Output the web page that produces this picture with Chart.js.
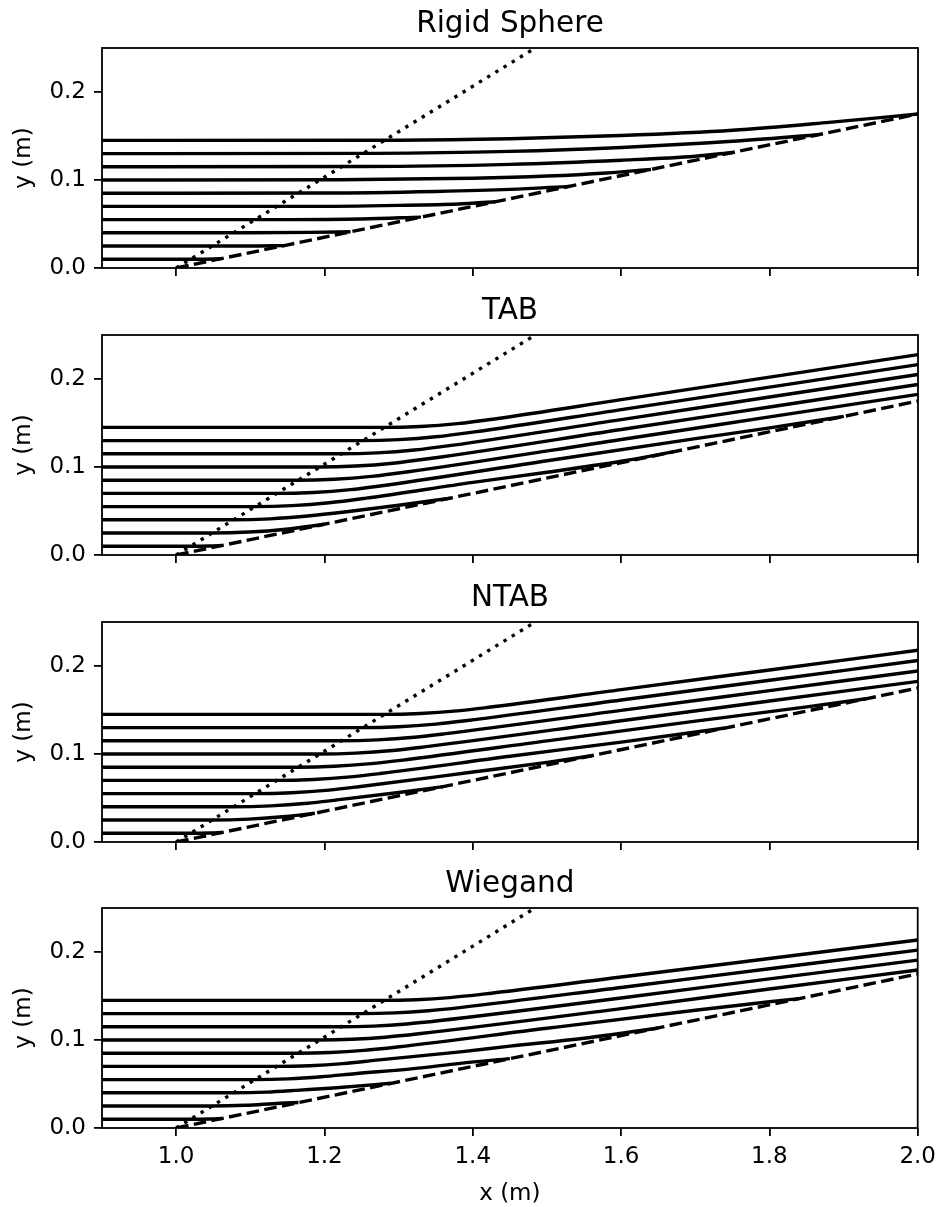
<!DOCTYPE html>
<html>
<head>
<meta charset="utf-8">
<script src="https://cdn.jsdelivr.net/npm/chart.js@4.4.1/dist/chart.umd.min.js"></script>
<style>
  html, body { margin: 0; padding: 0; background: #fff; }
  body { width: 943px; height: 1207px; position: relative; overflow: hidden; }
  canvas { position: absolute; left: 0; }
</style>
</head>
<body>
<canvas id="panel0" width="943" height="298" style="top:0px"></canvas>
<canvas id="panel1" width="943" height="298" style="top:287px"></canvas>
<canvas id="panel2" width="943" height="298" style="top:574px"></canvas>
<canvas id="panel3" width="943" height="347" style="top:860px"></canvas>
<script>
// Panel titles and axis ticks
const panelTitles = ['Rigid Sphere', 'TAB', 'NTAB', 'Wiegand'];
const xTicks = [1.0, 1.2, 1.4, 1.6, 1.8, 2.0];
const yTicks = [0.0, 0.1, 0.2];

// Reference lines shared by all panels (x, y in metres)
const dashedLine = [[1.0, 0.0], [2.0, 0.175]];
const dottedLine = [[1.0, 0.0], [1.484, 0.25]];

// Trajectories, one list of [x, y] points per starting height
const rigidSphereTracks = [
  [[0.9, 0.01], [1.03, 0.01], [1.06, 0.0105]],
  [[0.9, 0.025], [1.1, 0.025], [1.145, 0.0254]],
  [[0.9, 0.04], [1.1, 0.04], [1.18, 0.0405], [1.235, 0.0412]],
  [[0.9, 0.055], [1.15, 0.055], [1.25, 0.0557], [1.33, 0.0578]],
  [[0.9, 0.07], [1.17, 0.07], [1.3, 0.0712], [1.38, 0.0728], [1.43, 0.0753]],
  [[0.9, 0.085], [1.2, 0.0852], [1.35, 0.087], [1.45, 0.0893], [1.53, 0.0928]],
  [[0.9, 0.1], [1.22, 0.1003], [1.4, 0.102], [1.5, 0.1045], [1.58, 0.108], [1.64, 0.112]],
  [[0.9, 0.115], [1.25, 0.1153], [1.45, 0.1178], [1.6, 0.1225], [1.7, 0.127], [1.75, 0.1313]],
  [[0.9, 0.13], [1.27, 0.1303], [1.45, 0.1325], [1.6, 0.137], [1.75, 0.144], [1.865, 0.1514]],
  [[0.9, 0.145], [1.3, 0.1452], [1.45, 0.1468], [1.6, 0.1505], [1.75, 0.1565], [1.88, 0.1655], [2.0, 0.175]]
];

const tabTracks = [
  [[0.9, 0.01], [1.019, 0.01], [1.045, 0.0103], [1.062, 0.0108]],
  [[0.9, 0.025], [1.048, 0.025], [1.098, 0.0261], [1.148, 0.0293], [1.2, 0.0349]],
  [[0.9, 0.04], [1.077, 0.04], [1.127, 0.0411], [1.177, 0.0443], [1.227, 0.0488], [1.3, 0.0565], [1.37, 0.0647]],
  [[0.9, 0.055], [1.106, 0.055], [1.156, 0.0561], [1.206, 0.0593], [1.256, 0.0646], [1.4, 0.0825], [1.5, 0.094], [1.6, 0.1065], [1.67, 0.1172]],
  [[0.9, 0.07], [1.135, 0.07], [1.185, 0.0711], [1.235, 0.0743], [1.285, 0.0796], [1.5, 0.1071], [1.7, 0.1322], [1.8, 0.1445], [1.9, 0.1575]],
  [[0.9, 0.085], [1.163, 0.085], [1.213, 0.0861], [1.263, 0.0893], [1.313, 0.0946], [1.6, 0.1313], [1.8, 0.1569], [2.0, 0.1825]],
  [[0.9, 0.1], [1.192, 0.1], [1.242, 0.1011], [1.292, 0.1043], [1.342, 0.1096], [1.6, 0.1426], [1.8, 0.1682], [2.0, 0.1938]],
  [[0.9, 0.115], [1.221, 0.115], [1.271, 0.1161], [1.321, 0.1193], [1.371, 0.1246], [1.6, 0.1539], [1.8, 0.1795], [2.0, 0.2051]],
  [[0.9, 0.13], [1.25, 0.13], [1.3, 0.1311], [1.35, 0.1343], [1.4, 0.1396], [1.6, 0.1652], [1.8, 0.1908], [2.0, 0.2164]],
  [[0.9, 0.145], [1.279, 0.145], [1.329, 0.1461], [1.379, 0.1493], [1.429, 0.1546], [1.6, 0.1765], [1.8, 0.2021], [2.0, 0.2277]]
];

const ntabTracks = [
  [[0.9, 0.01], [1.019, 0.01], [1.045, 0.0103], [1.062, 0.0108]],
  [[0.9, 0.025], [1.048, 0.025], [1.098, 0.026], [1.148, 0.029], [1.187, 0.0327]],
  [[0.9, 0.04], [1.077, 0.04], [1.127, 0.041], [1.177, 0.044], [1.217, 0.0478], [1.3, 0.0562], [1.36, 0.063]],
  [[0.9, 0.055], [1.106, 0.055], [1.156, 0.056], [1.206, 0.059], [1.246, 0.0628], [1.4, 0.0795], [1.5, 0.0905], [1.56, 0.098]],
  [[0.9, 0.07], [1.135, 0.07], [1.185, 0.071], [1.235, 0.074], [1.275, 0.0778], [1.45, 0.0974], [1.6, 0.1135], [1.74, 0.1295]],
  [[0.9, 0.085], [1.163, 0.085], [1.213, 0.086], [1.263, 0.089], [1.303, 0.0928], [1.5, 0.1149], [1.7, 0.1373], [1.85, 0.1535], [1.93, 0.1628]],
  [[0.9, 0.1], [1.192, 0.1], [1.242, 0.101], [1.292, 0.104], [1.332, 0.1078], [1.6, 0.1378], [1.8, 0.1602], [2.0, 0.1826]],
  [[0.9, 0.115], [1.221, 0.115], [1.271, 0.116], [1.321, 0.119], [1.361, 0.1228], [1.6, 0.1496], [1.8, 0.172], [2.0, 0.1944]],
  [[0.9, 0.13], [1.25, 0.13], [1.3, 0.131], [1.35, 0.134], [1.39, 0.1378], [1.6, 0.1614], [1.8, 0.1838], [2.0, 0.2062]],
  [[0.9, 0.145], [1.279, 0.145], [1.329, 0.146], [1.379, 0.149], [1.419, 0.1528], [1.6, 0.1731], [1.8, 0.1955], [2.0, 0.2179]]
];

const wiegandTracks = [
  [[0.9, 0.01], [1.019, 0.01], [1.045, 0.0103], [1.062, 0.0108]],
  [[0.9, 0.025], [1.048, 0.025], [1.093, 0.0258], [1.14, 0.0282], [1.165, 0.0289]],
  [[0.9, 0.04], [1.077, 0.04], [1.122, 0.0408], [1.167, 0.0431], [1.212, 0.0455], [1.29, 0.0508]],
  [[0.9, 0.055], [1.106, 0.055], [1.151, 0.0558], [1.196, 0.0582], [1.241, 0.0617], [1.32, 0.0675], [1.383, 0.0735], [1.45, 0.0788]],
  [[0.9, 0.07], [1.135, 0.07], [1.18, 0.0708], [1.225, 0.0732], [1.27, 0.0771], [1.383, 0.0865], [1.45, 0.093], [1.55, 0.102], [1.65, 0.1137]],
  [[0.9, 0.085], [1.163, 0.085], [1.208, 0.0858], [1.253, 0.0882], [1.298, 0.0921], [1.5, 0.1133], [1.7, 0.1338], [1.8, 0.1435], [1.84, 0.147]],
  [[0.9, 0.1], [1.192, 0.1], [1.237, 0.1008], [1.282, 0.1032], [1.327, 0.1071], [1.6, 0.1357], [1.8, 0.158], [2.0, 0.1795]],
  [[0.9, 0.115], [1.221, 0.115], [1.266, 0.1158], [1.311, 0.1182], [1.356, 0.1221], [1.6, 0.1477], [1.8, 0.1695], [2.0, 0.1908]],
  [[0.9, 0.13], [1.25, 0.13], [1.295, 0.1308], [1.34, 0.1332], [1.385, 0.1371], [1.6, 0.1597], [1.8, 0.181], [2.0, 0.2022]],
  [[0.9, 0.145], [1.279, 0.145], [1.324, 0.1458], [1.369, 0.1482], [1.414, 0.1521], [1.6, 0.1716], [1.8, 0.1926], [2.0, 0.2136]]
];

const panelTracks = [rigidSphereTracks, tabTracks, ntabTracks, wiegandTracks];

// ---- drawing ----
const FONT = "'DejaVu Sans', sans-serif";
const LINE_W = 3.4;
Chart.defaults.font.family = FONT;
Chart.defaults.color = '#000';

// Box around each axes area, drawn over the curves
const framePlugin = {
  id: 'frame',
  afterDatasetsDraw(chart) {
    const { ctx, chartArea: a } = chart;
    ctx.save();
    ctx.strokeStyle = '#000';
    ctx.lineWidth = 1.8;
    ctx.strokeRect(a.left, a.top, a.right - a.left, a.bottom - a.top);
    ctx.restore();
  }
};

const toPoints = pts => pts.map(([x, y]) => ({ x, y }));

const tickGrid = {
  display: true,
  drawOnChartArea: false,
  drawTicks: true,
  tickLength: 8,
  tickWidth: 1.8,
  tickColor: '#000',
  lineWidth: 1.8,
  color: '#000'
};

function buildPanel(index) {
  const isLast = index === panelTitles.length - 1;
  const datasets = panelTracks[index].map(track => ({
    data: toPoints(track),
    borderColor: '#000',
    borderWidth: LINE_W,
    pointRadius: 0,
    cubicInterpolationMode: 'monotone',
    fill: false
  }));
  datasets.push({
    data: toPoints(dottedLine),
    borderColor: '#000',
    borderWidth: LINE_W,
    borderDash: [3.4, 6.2],
    pointRadius: 0,
    tension: 0,
    fill: false
  });
  datasets.push({
    data: toPoints(dashedLine),
    borderColor: '#000',
    borderWidth: LINE_W,
    borderDash: [12.6, 5.4],
    pointRadius: 0,
    tension: 0,
    fill: false
  });

  new Chart(document.getElementById('panel' + index), {
    type: 'line',
    data: { datasets },
    plugins: [framePlugin],
    options: {
      responsive: false,
      animation: false,
      events: [],
      devicePixelRatio: 1,
      layout: { padding: { left: 0, right: 25, top: 0, bottom: 0 } },
      plugins: {
        legend: { display: false },
        tooltip: { enabled: false },
        title: {
          display: true,
          text: panelTitles[index],
          fullSize: false,
          color: '#000',
          font: { family: FONT, size: 29.5, weight: 'normal', lineHeight: 1.2 },
          padding: { top: 6.3, bottom: 6.3 }
        }
      },
      scales: {
        x: {
          type: 'linear',
          min: 0.9,
          max: 2.0,
          afterFit(scale) { scale.height = isLast ? 79 : 30; },
          afterBuildTicks(scale) { scale.ticks = xTicks.map(v => ({ value: v })); },
          ticks: {
            display: isLast,
            autoSkip: false,
            maxRotation: 0,
            padding: 7,
            color: '#000',
            font: { size: 23 },
            callback: v => v.toFixed(1)
          },
          grid: tickGrid,
          border: { display: false },
          title: {
            display: isLast,
            text: 'x (m)',
            color: '#000',
            font: { size: 23, lineHeight: 1.0 },
            padding: { top: 0, bottom: 1.5 }
          }
        },
        y: {
          type: 'linear',
          min: 0,
          max: 0.25,
          afterFit(scale) { scale.width = 102; },
          afterBuildTicks(scale) { scale.ticks = yTicks.map(v => ({ value: v })); },
          ticks: {
            padding: 8,
            color: '#000',
            font: { size: 23, lineHeight: 1.0 },
            callback: v => v.toFixed(1)
          },
          grid: tickGrid,
          border: { display: false },
          title: {
            display: true,
            text: 'y (m)',
            color: '#000',
            font: { size: 23, lineHeight: 1.2 },
            padding: { top: 10, bottom: 0 }
          }
        }
      }
    }
  });
}

panelTitles.forEach((_, i) => buildPanel(i));
</script>
</body>
</html>
